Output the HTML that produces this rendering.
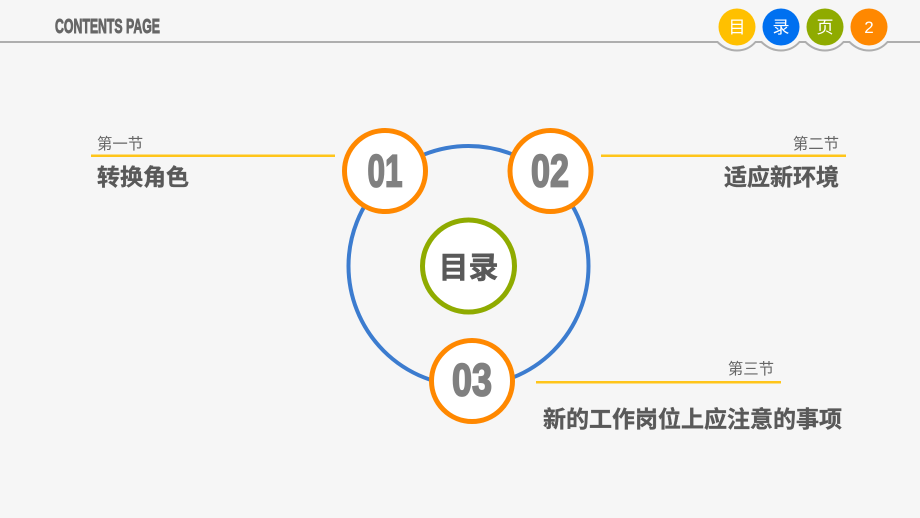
<!DOCTYPE html>
<html lang="zh">
<head>
<meta charset="utf-8">
<style>
html,body{margin:0;padding:0;background:#f6f6f6}
svg{display:block}
text{font-family:"Liberation Sans","Noto Sans CJK SC",sans-serif}
</style>
</head>
<body>
<svg width="920" height="518" viewBox="0 0 920 518" xmlns="http://www.w3.org/2000/svg">
<rect width="920" height="518" fill="#f6f6f6"/>
<!-- header line with scallops -->
<path d="M0 42H717.500Q726 50.500 737 50.500Q748 50.500 755.500 42H761.500Q770 50.500 781 50.500Q792 50.500 799.500 42H805.500Q814 50.500 825 50.500Q836 50.500 843.500 42H849.500Q858 50.500 869 50.500Q880 50.500 887.500 42H920" fill="none" stroke="#aeaeae" stroke-width="2"/>
<text x="55" y="33" font-size="20" font-weight="700" fill="#666" stroke="#666" stroke-width=".9" textLength="105" lengthAdjust="spacingAndGlyphs">CONTENTS PAGE</text>
<g text-anchor="middle" fill="#fff" font-size="17">
<circle cx="737" cy="27" r="18.500" fill="#ffc000"/><text x="737" y="33">目</text>
<circle cx="781" cy="27" r="18.500" fill="#0070f0"/><text x="781" y="33">录</text>
<circle cx="825" cy="27" r="18.500" fill="#8fab00"/><text x="825" y="33">页</text>
<circle cx="869" cy="27" r="18.500" fill="#ff8800"/><text x="869" y="33">2</text>
</g>
<!-- big ring -->
<circle cx="468.500" cy="266" r="120" fill="none" stroke="#3c7ccf" stroke-width="4"/>
<!-- lines -->
<rect x="91" y="154.500" width="244" height="2.500" fill="#ffc51a"/>
<rect x="601" y="154.500" width="245" height="2.500" fill="#ffc51a"/>
<rect x="536" y="381" width="245" height="2.500" fill="#ffc51a"/>
<!-- nodes -->
<g fill="#fff" stroke="#ff8800" stroke-width="5">
<circle cx="385" cy="171" r="40.500"/>
<circle cx="550.500" cy="171" r="40.500"/>
<circle cx="472" cy="381" r="40.500"/>
</g>
<circle cx="468.500" cy="266" r="46" fill="#fff" stroke="#8fab00" stroke-width="5"/>
<g fill="#808080" stroke="#808080" stroke-width="1.800" font-weight="700" font-size="45">
<text x="367.500" y="186.500" textLength="35" lengthAdjust="spacingAndGlyphs">01</text>
<text x="531" y="186.500" textLength="38" lengthAdjust="spacingAndGlyphs">02</text>
<text x="452" y="395.500" textLength="40" lengthAdjust="spacingAndGlyphs">03</text>
</g>
<text x="468.500" y="278" text-anchor="middle" font-size="30" font-weight="700" fill="#595959" stroke="#595959" stroke-width=".5">目录</text>
<!-- labels -->
<g font-size="15.400" fill="#666">
<text x="97" y="149">第一节</text>
<text x="839" y="149" text-anchor="end">第二节</text>
<text x="774" y="374" text-anchor="end">第三节</text>
</g>
<g font-size="23" font-weight="700" fill="#595959" stroke="#595959" stroke-width=".35">
<text x="97" y="185">转换角色</text>
<text x="839" y="185" text-anchor="end">适应新环境</text>
<text x="543" y="427">新的工作岗位上应注意的事项</text>
</g>
</svg>
</body>
</html>
